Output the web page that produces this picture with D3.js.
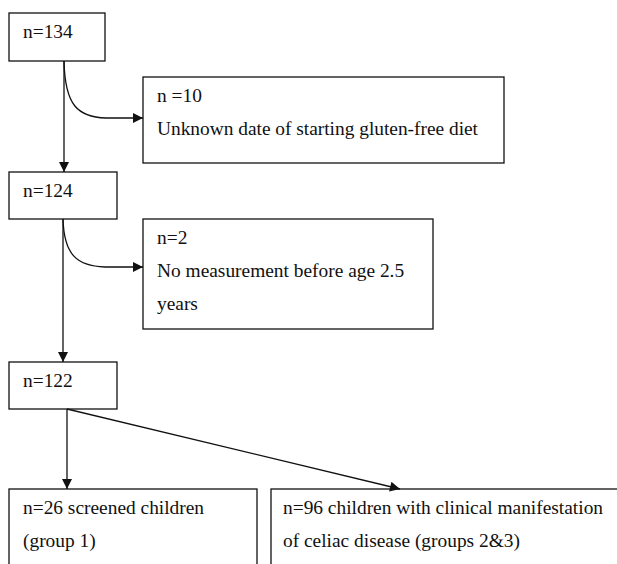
<!DOCTYPE html>
<html>
<head>
<meta charset="utf-8">
<script src="https://cdn.jsdelivr.net/npm/d3@7"></script>
<style>
  body { margin: 0; background: #fff; }
  .box { fill: #fff; stroke: #111; stroke-width: 1.3; }
  .lbl { font-family: "Liberation Serif", "Times New Roman", serif; font-size: 19.4px; fill: #111; }
  .link { fill: none; stroke: #111; stroke-width: 1.3; }
</style>
</head>
<body>
<div id="flow"></div>
<script>
// node text
var nodeIds = ["all", "unknown", "afterUnknown", "noMeasure", "final", "screened", "clinical"];
var nodeLines = [
  ["n=134"],
  ["n =10", "Unknown date of starting gluten-free diet"],
  ["n=124"],
  ["n=2", "No measurement before age 2.5", "years"],
  ["n=122"],
  ["n=26 screened children", "(group 1)"],
  ["n=96 children with clinical manifestation", "of celiac disease (groups 2&3)"]
];
// links between nodes (source index, target index, kind)
var links = [
  [0, 2, "down"],
  [0, 1, "curve"],
  [2, 4, "down"],
  [2, 3, "curve"],
  [4, 5, "down"],
  [4, 6, "diag"]
];

// layout of the boxes (page pixels)
var layout = [
  {x: 9,   y: 13,  w: 96,  h: 48,  stemX: 64},
  {x: 143, y: 77,  w: 361, h: 86,  fit: 321},
  {x: 9,   y: 172, w: 108, h: 47,  stemX: 63},
  {x: 143, y: 219, w: 290, h: 110},
  {x: 9,   y: 362, w: 108, h: 47,  stemX: 67},
  {x: 9,   y: 489, w: 248, h: 100},
  {x: 271, y: 489, w: 360, h: 100, tipX: 400}
];

var width = 617, height = 564;
var lineGap = 33;
var firstBase = 25;
var padLeft = 14;

var svg = d3.select("#flow")
    .append("svg")
    .attr("width", width)
    .attr("height", height);

svg.append("defs").append("marker")
    .attr("id", "head")
    .attr("viewBox", "0 0 10 10")
    .attr("refX", 10)
    .attr("refY", 5)
    .attr("markerUnits", "userSpaceOnUse")
    .attr("markerWidth", 12)
    .attr("markerHeight", 10)
    .attr("orient", "auto")
  .append("path")
    .attr("d", "M0,0L10,5L0,10Z")
    .attr("fill", "#111");

var nodes = nodeIds.map(function(id, i) {
  return Object.assign({id: id, lines: nodeLines[i]}, layout[i]);
});

// boxes
var g = svg.selectAll("g.node")
    .data(nodes)
    .enter()
    .append("g")
    .attr("class", "node")
    .attr("transform", function(d) { return "translate(" + d.x + "," + d.y + ")"; });

g.append("rect")
    .attr("class", "box")
    .attr("width", function(d) { return d.w; })
    .attr("height", function(d) { return d.h; });

g.each(function(d, i) {
  var pad = i === 6 ? 12 : padLeft;
  d3.select(this).selectAll("text")
      .data(d.lines)
      .enter()
      .append("text")
      .attr("class", "lbl")
      .attr("x", pad)
      .attr("y", function(t, j) { return firstBase + j * lineGap; })
      .text(function(t) { return t; })
      .each(function(t, j) {
        // the long line in this box is set a bit tighter in the original
        if (d.fit && j === 1) {
          d3.select(this).attr("textLength", d.fit).attr("lengthAdjust", "spacing");
        }
      });
});

// arrows
function linkPath(l) {
  var s = nodes[l[0]], t = nodes[l[1]];
  var x0 = s.stemX, y0 = s.y + s.h;
  if (l[2] === "down") {
    return d3.line()([[x0, y0], [x0, t.y]]);
  }
  if (l[2] === "diag") {
    return d3.line()([[x0, y0], [t.tipX, t.y]]);
  }
  // curved side branch
  var yEnd = t.y + (t.h > 100 ? 48 : 41);
  var p = d3.path();
  p.moveTo(x0, y0);
  p.bezierCurveTo(x0 + 1, yEnd - 12, x0 + 14, yEnd - 1, x0 + 42, yEnd);
  p.lineTo(t.x, yEnd);
  return p.toString();
}

svg.selectAll("path.link")
    .data(links)
    .enter()
    .append("path")
    .attr("class", "link")
    .attr("d", linkPath)
    .attr("marker-end", "url(#head)");
</script>
</body>
</html>
